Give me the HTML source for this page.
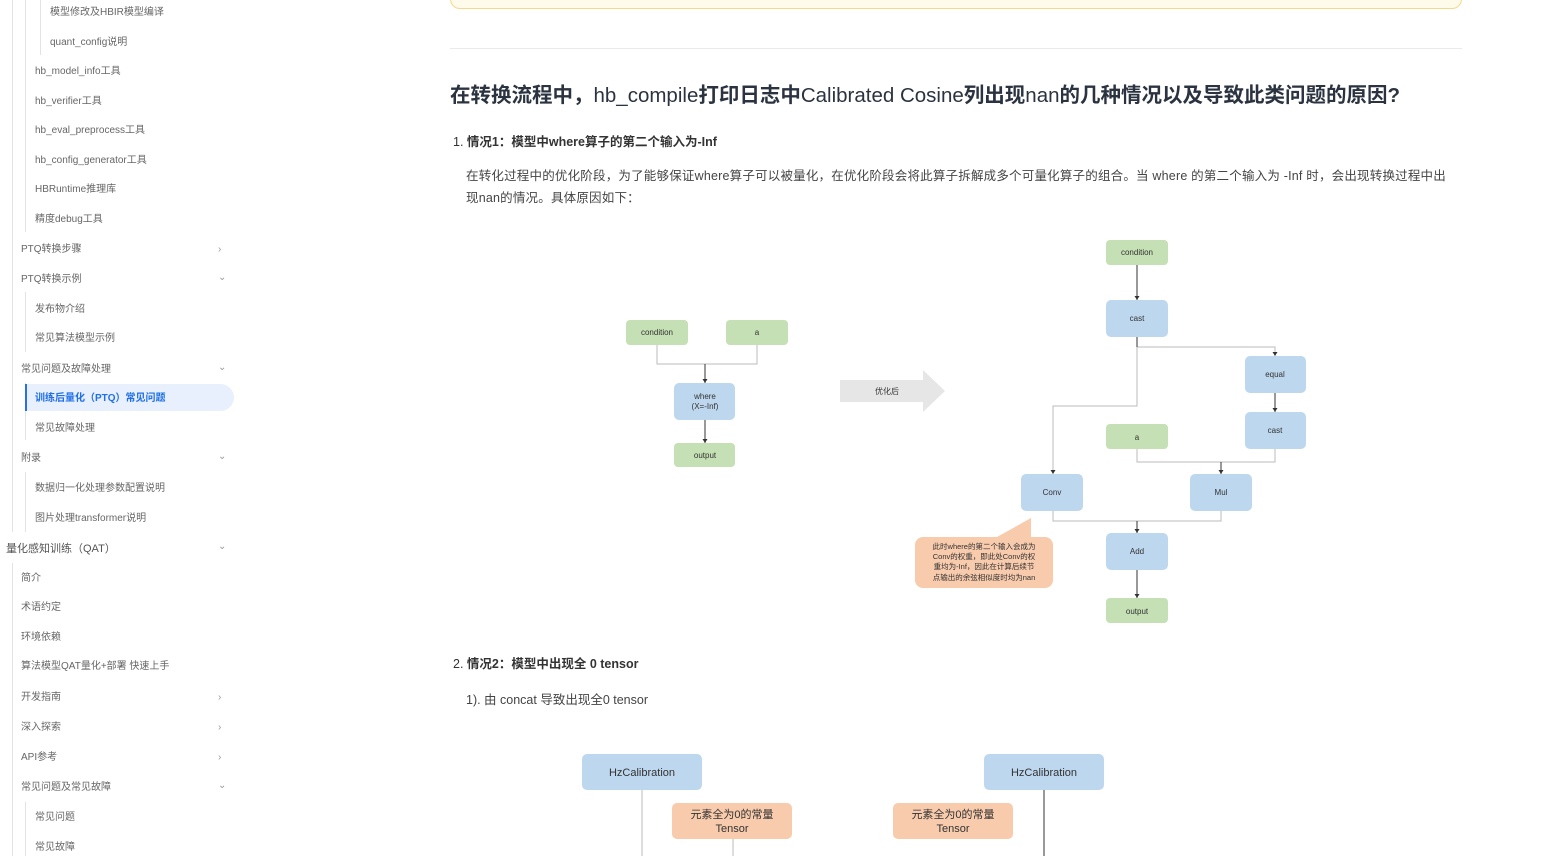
<!DOCTYPE html>
<html><head><meta charset="utf-8"><style>
*{margin:0;padding:0;box-sizing:border-box}
body{width:1560px;height:856px;position:relative;overflow:hidden;background:#fff;font-family:"Liberation Sans","Noto Sans CJK SC",sans-serif;color:#333}
.s{position:absolute;font-size:10px;color:#666;white-space:nowrap;line-height:12px;margin-top:2px}
.c{position:absolute;left:218px;font-size:10px;color:#999;margin-top:2px}
.vl{position:absolute;width:1px;background:#e3e3e3}
.t{position:absolute;white-space:nowrap}
</style></head><body>
<div class="vl" style="left:12px;top:0;height:532px"></div>
<div class="vl" style="left:12px;top:563px;height:293px"></div>
<div class="vl" style="left:25px;top:0;height:232px"></div>
<div class="vl" style="left:40px;top:0;height:55px"></div>
<div class="vl" style="left:25px;top:292px;height:60px"></div>
<div class="vl" style="left:25px;top:383px;height:57px"></div>
<div class="vl" style="left:25px;top:472px;height:60px"></div>
<div class="vl" style="left:25px;top:802px;height:54px"></div>
<div style="position:absolute;left:25px;top:384px;width:209px;height:27px;background:#e8effd;border-radius:0 14px 14px 0;border-left:2px solid #2a6ee8"></div>
<div class="s" style="left:50px;top:5px">模型修改及HBIR模型编译</div>
<div class="s" style="left:50px;top:35px">quant_config说明</div>
<div class="s" style="left:35px;top:64px">hb_model_info工具</div>
<div class="s" style="left:35px;top:94px">hb_verifier工具</div>
<div class="s" style="left:35px;top:123px">hb_eval_preprocess工具</div>
<div class="s" style="left:35px;top:153px">hb_config_generator工具</div>
<div class="s" style="left:35px;top:182px">HBRuntime推理库</div>
<div class="s" style="left:35px;top:212px">精度debug工具</div>
<div class="s" style="left:21px;top:242px">PTQ转换步骤</div><div class="c" style="top:242px">›</div>
<div class="s" style="left:21px;top:272px">PTQ转换示例</div><div class="c" style="top:270px">⌄</div>
<div class="s" style="left:35px;top:302px">发布物介绍</div>
<div class="s" style="left:35px;top:331px">常见算法模型示例</div>
<div class="s" style="left:21px;top:362px">常见问题及故障处理</div><div class="c" style="top:360px">⌄</div>
<div class="s" style="left:35px;top:391px;color:#1f6fe6;font-weight:bold">训练后量化（PTQ）常见问题</div>
<div class="s" style="left:35px;top:421px">常见故障处理</div>
<div class="s" style="left:21px;top:451px">附录</div><div class="c" style="top:449px">⌄</div>
<div class="s" style="left:35px;top:481px">数据归一化处理参数配置说明</div>
<div class="s" style="left:35px;top:511px">图片处理transformer说明</div>
<div class="s" style="left:6px;top:541px;color:#555;font-size:11px">量化感知训练（QAT）</div><div class="c" style="top:539px">⌄</div>
<div class="s" style="left:21px;top:571px">简介</div>
<div class="s" style="left:21px;top:600px">术语约定</div>
<div class="s" style="left:21px;top:630px">环境依赖</div>
<div class="s" style="left:21px;top:659px">算法模型QAT量化+部署 快速上手</div>
<div class="s" style="left:21px;top:690px">开发指南</div><div class="c" style="top:690px">›</div>
<div class="s" style="left:21px;top:720px">深入探索</div><div class="c" style="top:720px">›</div>
<div class="s" style="left:21px;top:750px">API参考</div><div class="c" style="top:750px">›</div>
<div class="s" style="left:21px;top:780px">常见问题及常见故障</div><div class="c" style="top:778px">⌄</div>
<div class="s" style="left:35px;top:810px">常见问题</div>
<div class="s" style="left:35px;top:840px">常见故障</div>

<div style="position:absolute;left:450px;top:-20px;width:1012px;height:29px;border:1px solid #f3d98a;background:#fffbea;border-radius:10px"></div>
<div style="position:absolute;left:450px;top:48px;width:1012px;height:1px;background:#eaeaea"></div>
<div class="t" style="left:450px;top:78px;font-size:20.5px;font-weight:bold;color:#2b3340">在转换流程中，<span style="font-weight:normal">hb_compile</span>打印日志中<span style="font-weight:normal">Calibrated Cosine</span>列出现<span style="font-weight:normal">nan</span>的几种情况以及导致此类问题的原因?</div>
<div class="t" style="left:453px;top:131px;font-size:12.5px;color:#333">1. <b>情况1：模型中where算子的第二个输入为-Inf</b></div>
<div class="t" style="left:466px;top:165px;font-size:12.5px;color:#444;line-height:22px;letter-spacing:0.2px">在转化过程中的优化阶段，为了能够保证where算子可以被量化，在优化阶段会将此算子拆解成多个可量化算子的组合。当 where 的第二个输入为 -Inf 时，会出现转换过程中出<br>现nan的情况。具体原因如下：</div>
<div class="t" style="left:453px;top:653px;font-size:12.5px;color:#333">2. <b>情况2：模型中出现全 0 tensor</b></div>
<div class="t" style="left:466px;top:689px;font-size:12.5px;color:#444">1). 由 concat 导致出现全0 tensor</div>

<svg style="position:absolute;left:0;top:0" width="1560" height="856" font-family="Liberation Sans, Noto Sans CJK SC, sans-serif">
<g fill="none" stroke="#bbb" stroke-width="1">
<path d="M657,345V364H757V345"/>
<path d="M1137,337V406H1053V474"/>
<path d="M1137,347H1275V356"/>
<path d="M1137,449V462H1275V449"/>
<path d="M1053,511V521H1221V511"/>
<path d="M642,790V856"/><path d="M733,839V856"/>
</g>
<g stroke="#333" stroke-width="1" fill="none">
<path d="M705,364V383"/>
<path d="M705,420V443"/>
<path d="M1137,265V300"/>
<path d="M1137,337V347"/>
<path d="M1275,393V412"/>
<path d="M1221,462V474"/>
<path d="M1137,521V533"/>
<path d="M1137,570V598"/>
<path d="M1044,790V856"/>
</g>
<g fill="#333">
<path d="M702.5,379h5l-2.5,4z"/><path d="M702.5,439h5l-2.5,4z"/>
<path d="M1134.5,296h5l-2.5,4z"/><path d="M1272.5,352h5l-2.5,4z"/><path d="M1272.5,408h5l-2.5,4z"/>
<path d="M1050.5,470h5l-2.5,4z"/><path d="M1218.5,470h5l-2.5,4z"/><path d="M1134.5,529h5l-2.5,4z"/><path d="M1134.5,594h5l-2.5,4z"/>
</g>
<path d="M840,380H923V370L945,391L923,412V402H840Z" fill="#e6e6e6"/>
<text x="887" y="394" font-size="8" text-anchor="middle" fill="#333">优化后</text>
<g font-size="8" text-anchor="middle" fill="#333">
<rect x="626" y="320" width="62" height="25" rx="4" fill="#c5e0b4"/><text x="657" y="335">condition</text>
<rect x="726" y="320" width="62" height="25" rx="4" fill="#c5e0b4"/><text x="757" y="335">a</text>
<rect x="674" y="383" width="61" height="37" rx="5" fill="#bdd7ee"/><text x="705" y="399">where</text><text x="705" y="409">(X=-Inf)</text>
<rect x="674" y="443" width="61" height="24" rx="4" fill="#c5e0b4"/><text x="705" y="458">output</text>
<rect x="1106" y="240" width="62" height="25" rx="4" fill="#c5e0b4"/><text x="1137" y="255">condition</text>
<rect x="1106" y="300" width="62" height="37" rx="5" fill="#bdd7ee"/><text x="1137" y="321">cast</text>
<rect x="1245" y="356" width="61" height="37" rx="5" fill="#bdd7ee"/><text x="1275" y="377">equal</text>
<rect x="1245" y="412" width="61" height="37" rx="5" fill="#bdd7ee"/><text x="1275" y="433">cast</text>
<rect x="1106" y="424" width="62" height="25" rx="4" fill="#c5e0b4"/><text x="1137" y="440">a</text>
<rect x="1021" y="474" width="62" height="37" rx="5" fill="#bdd7ee"/><text x="1052" y="495">Conv</text>
<rect x="1190" y="474" width="62" height="37" rx="5" fill="#bdd7ee"/><text x="1221" y="495">Mul</text>
<rect x="1106" y="533" width="62" height="37" rx="5" fill="#bdd7ee"/><text x="1137" y="554">Add</text>
<rect x="1106" y="598" width="62" height="25" rx="4" fill="#c5e0b4"/><text x="1137" y="614">output</text>
<path d="M997,537L1031,518L1031,537Z" fill="#f8cbad"/>
<rect x="915" y="537" width="138" height="51" rx="8" fill="#f8cbad"/>
<g font-size="7.5"><text x="984" y="549">此时where的第二个输入会成为</text><text x="984" y="559">Conv的权重，即此处Conv的权</text><text x="984" y="569">重均为-Inf，因此在计算后续节</text><text x="984" y="580">点输出的余弦相似度时均为nan</text></g>
</g>
<g font-size="11" text-anchor="middle" fill="#333">
<rect x="582" y="754" width="120" height="36" rx="5" fill="#bdd7ee"/><text x="642" y="776">HzCalibration</text>
<rect x="984" y="754" width="120" height="36" rx="5" fill="#bdd7ee"/><text x="1044" y="776">HzCalibration</text>
<rect x="672" y="803" width="120" height="36" rx="5" fill="#f8cbad"/><text x="732" y="818">元素全为0的常量</text><text x="732" y="832">Tensor</text>
<rect x="893" y="803" width="120" height="36" rx="5" fill="#f8cbad"/><text x="953" y="818">元素全为0的常量</text><text x="953" y="832">Tensor</text>
</g>
</svg>
</body></html>
